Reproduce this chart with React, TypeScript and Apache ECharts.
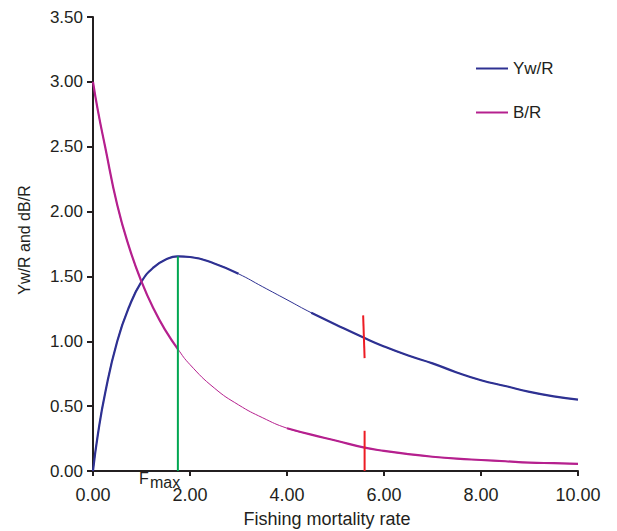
import React, { useEffect, useRef } from "react";
import * as echarts from "echarts";

const fishingMortality = [0, 0.1, 0.25, 0.5, 0.75, 1, 1.25, 1.5, 1.75, 2, 2.5, 3, 3.5, 4, 4.5, 5, 5.6, 6, 6.5, 7, 7.5, 8, 8.5, 9, 9.5, 10];
const yieldPerRecruit = [0, 0.28, 0.6, 1.0, 1.27, 1.46, 1.57, 1.63, 1.655, 1.65, 1.6, 1.52, 1.42, 1.32, 1.22, 1.13, 1.025, 0.96, 0.89, 0.83, 0.76, 0.7, 0.655, 0.61, 0.575, 0.55];
const biomassPerRecruit = [3.0, 2.78, 2.5, 2.05, 1.72, 1.46, 1.25, 1.08, 0.94, 0.82, 0.64, 0.51, 0.41, 0.33, 0.28, 0.235, 0.18, 0.155, 0.13, 0.11, 0.095, 0.085, 0.075, 0.065, 0.06, 0.055];
const xTicks = [0, 2, 4, 6, 8, 10];
const yTicks = [0, 0.5, 1, 1.5, 2, 2.5, 3, 3.5];
const fmax = 1.75;
const fmaxYield = 1.655;
const refF = 5.6;
const refUpper = [1.2, 0.87];
const refLower = [0.31, 0];
const ywThin = [3, 4.5];
const brThin = [1.9, 4];

const BLUE = "#2e3192";
const MAGENTA = "#b5208e";
const GREEN = "#00a651";
const RED = "#ed1c24";
const TXT = "#231f20";
const FONT = "Liberation Sans, Arial, Helvetica, sans-serif";

function pairs(ys: number[]) {
  return fishingMortality.map((x, i) => [x, ys[i]]);
}
function thick(ys: number[], range: number[]) {
  return fishingMortality.map((x, i) => (x > range[0] && x < range[1] ? [x, "-"] : [x, ys[i]]));
}

export default function App() {
  const ref = useRef<HTMLDivElement>(null);
  useEffect(() => {
    if (!ref.current) return;
    const chart = echarts.init(ref.current, null, { renderer: "svg" });
    chart.setOption({
      animation: false,
      backgroundColor: "#ffffff",
      textStyle: { fontFamily: FONT },
      grid: { left: 93, right: 39, top: 17, bottom: 60, containLabel: false },
      legend: {
        data: ["Yw/R", "B/R"],
        orient: "vertical",
        left: 471,
        top: 55,
        padding: 5,
        itemGap: 27,
        itemWidth: 32,
        itemHeight: 2,
        icon: "rect",
        textStyle: { color: TXT, fontSize: 17, fontFamily: FONT },
      },
      xAxis: {
        type: "value",
        min: xTicks[0],
        max: xTicks[xTicks.length - 1],
        interval: xTicks[1] - xTicks[0],
        axisLine: { lineStyle: { color: TXT, width: 2 } },
        axisTick: { show: true, length: 5, lineStyle: { color: TXT, width: 2 } },
        axisLabel: { color: TXT, fontSize: 18, margin: 15, formatter: (v: number) => v.toFixed(2) },
        splitLine: { show: false },
      },
      yAxis: {
        type: "value",
        min: yTicks[0],
        max: yTicks[yTicks.length - 1],
        interval: yTicks[1] - yTicks[0],
        axisLine: { show: true, lineStyle: { color: TXT, width: 2 } },
        axisTick: { show: true, length: 6, lineStyle: { color: TXT, width: 2 } },
        axisLabel: { color: TXT, fontSize: 17, margin: 10, formatter: (v: number) => v.toFixed(2) },
        splitLine: { show: false },
      },
      graphic: [
        { type: "text", x: 24, y: 240, rotation: Math.PI / 2, style: { text: "Yw/R and dB/R", fill: TXT, fontSize: 16, fontFamily: FONT, align: "center", verticalAlign: "middle" } },
        { type: "text", x: 327, y: 519, style: { text: "Fishing mortality rate", fill: TXT, fontSize: 18, fontFamily: FONT, align: "center", verticalAlign: "middle" } },
        { type: "text", x: 139, y: 478, style: { text: "F", fill: TXT, fontSize: 16, fontFamily: FONT, align: "left", verticalAlign: "middle" } },
        { type: "text", x: 150, y: 482, style: { text: "max", fill: TXT, fontSize: 16, fontFamily: FONT, align: "left", verticalAlign: "middle" } },
      ],
      series: [
        { name: "Yw/R", type: "line", data: pairs(yieldPerRecruit), smooth: true, symbol: "none", lineStyle: { color: BLUE, width: 1 }, itemStyle: { color: BLUE }, z: 3 },
        { name: "Yw/R thick", type: "line", data: thick(yieldPerRecruit, ywThin), smooth: true, symbol: "none", lineStyle: { color: BLUE, width: 2.2 }, itemStyle: { color: BLUE }, z: 3 },
        { name: "B/R", type: "line", data: pairs(biomassPerRecruit), smooth: true, symbol: "none", lineStyle: { color: MAGENTA, width: 1 }, itemStyle: { color: MAGENTA }, z: 3 },
        { name: "B/R thick", type: "line", data: thick(biomassPerRecruit, brThin), smooth: true, symbol: "none", lineStyle: { color: MAGENTA, width: 2.2 }, itemStyle: { color: MAGENTA }, z: 3 },
        { name: "Fmax", type: "line", data: [[fmax, 0], [fmax, fmaxYield]], symbol: "none", lineStyle: { color: GREEN, width: 2 }, z: 4 },
        { name: "ref1", type: "line", data: [[refF - 0.03, refUpper[0]], [refF, refUpper[1]]], symbol: "none", lineStyle: { color: RED, width: 2 }, z: 4 },
        { name: "ref2", type: "line", data: [[refF, refLower[0]], [refF, refLower[1]]], symbol: "none", lineStyle: { color: RED, width: 2 }, z: 4 },
      ],
    });
    return () => chart.dispose();
  }, []);
  return <div ref={ref} style={{ width: 617, height: 531, position: "absolute", left: 0, top: 0 }} />;
}
